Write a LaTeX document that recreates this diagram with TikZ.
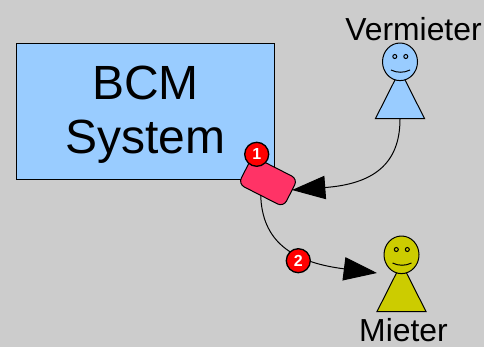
\documentclass[tikz,border=0pt]{standalone}
\usepackage{fontspec}
\setmainfont{Liberation Sans}
\usetikzlibrary{arrows.meta,shapes.geometric}
\definecolor{bg}{HTML}{CCCCCC}
\definecolor{sysblue}{HTML}{99CCFF}
\definecolor{pink}{HTML}{FF3366}
\definecolor{olive}{HTML}{CCCC00}
\tikzset{
  x=0.75pt,y=-0.75pt,
  ln/.style={line width=0.75pt,black},
  conn/.style={line width=0.75pt,black,-{Triangle[length=25pt,width=17.5pt]}},
  badge/.style={circle,draw=black,line width=1pt,fill=red,text=white,minimum size=18pt,inner sep=0pt,font=\fontsize{12}{12}\selectfont\bfseries},
  label/.style={font=\fontsize{23.9}{26}\selectfont,text=black,inner sep=0pt},
}
\newcommand{\person}[3]{%
  \draw[ln,fill=#3] (#1-24.5,#2+75.5) -- (#1,#2+27) -- (#1+24.5,#2+75.5) -- cycle;
  \draw[ln,fill=#3] (#1,#2+18.8) ellipse [x radius=17.5,y radius=18.8];
  \draw[ln] (#1-5.2,#2+13.5) circle [radius=2];
  \draw[ln] (#1+5.8,#2+13.5) circle [radius=2];
  \draw[ln] (#1-9,#2+27) .. controls (#1-3,#2+30) and (#1+4,#2+30) .. (#1+10,#2+27);
}
\begin{document}
\begin{tikzpicture}
\path[use as bounding box,fill=bg] (0,0) rectangle (484,347);
\node[draw=black,line width=0.75pt,fill=sysblue,minimum width=193.5pt,minimum height=102pt,inner sep=0pt,anchor=north west] (sys) at (16,43) {};
\node[align=center,inner sep=0pt,font=\fontsize{36}{40.5}\selectfont,text=black] (systext) at (145.5,115) {BCM\\System};
\person{400}{43}{sysblue}
\person{401.5}{236}{olive}
\coordinate (vfoot) at (400,119);
\node[label] (vlabel) at (413.5,29) {Vermieter};
\node[label] (mlabel) at (403.5,330.5) {Mieter};
\coordinate (mhead) at (377,273);
\coordinate (boxin) at (292,190);
\node[draw=black,line width=0.75pt,fill=pink,rounded corners=5pt,minimum width=38pt,minimum height=23.5pt,inner sep=0pt,rotate=-27] (box) at (268,181.5) {};
\draw[conn] (vfoot) .. controls (400,165) and (372,184) .. (boxin);
\coordinate (boxout) at (260.7,195);
\draw[conn] (boxout) .. controls (262,240) and (290,262) .. (mhead);
\node[badge] (b1) at (256.7,154.3) {1};
\node[badge] (b2) at (298.3,260.7) {2};
\end{tikzpicture}
\end{document}
